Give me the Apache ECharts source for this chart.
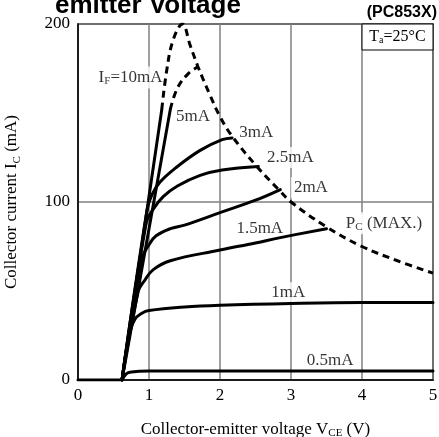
<!DOCTYPE html>
<html>
<head>
<meta charset="utf-8">
<script src="https://cdn.jsdelivr.net/npm/echarts@6/dist/echarts.min.js"></script>
<style>html,body{margin:0;padding:0;background:#fff}#c{width:439px;height:437px}</style>
</head>
<body>
<div id="c"></div>
<script>
// ---- data (Vce in V, Ic in mA) ----
const xTicks = [0, 1, 2, 3, 4, 5];
const yTicks = [0, 100, 200];
const flatZero = [[0, 0], [0.62, 0]];
const ifMax10 = [[0.62, 0], [0.9, 76], [1.18, 152]];
const ifMax10Dash = [[1.18, 152], [1.25, 174], [1.34, 191], [1.47, 200]];
const if5 = [[0.62, 0], [1.3, 152]];
const if5Dash = [[1.3, 152], [1.4, 164], [1.55, 172], [1.69, 176]];
const pcMax = [[1.47, 200], [1.58, 188], [1.69, 176], [1.86, 160], [2.0, 148], [2.17, 137], [2.54, 119], [2.85, 106], [3.0, 100], [3.5, 86], [4.0, 75], [4.5, 67], [5.0, 60]];
const if3 = [[0.62, 0], [0.97, 95], [1.04, 104], [1.15, 111], [1.37, 119], [1.72, 129], [2.03, 135], [2.17, 136]];
const if25 = [[0.62, 0], [0.96, 88], [1.06, 96], [1.2, 103], [1.4, 109], [1.72, 115], [2.03, 118], [2.54, 120]];
const if2 = [[0.62, 0], [0.9, 68], [1.0, 76], [1.1, 81], [1.3, 85], [1.5, 87], [2.0, 94], [2.5, 101], [2.85, 107]];
const if15 = [[0.62, 0], [0.85, 50], [0.94, 56], [1.06, 62], [1.3, 67], [2.0, 73], [2.5, 77], [2.85, 80], [3.5, 85]];
const if1 = [[0.62, 0], [0.72, 25], [0.8, 34], [0.9, 37.5], [1.0, 39], [1.5, 41], [2.0, 42], [3.0, 43], [4.0, 43.5], [5.0, 43.5]];
const if05 = [[0.62, 0], [0.68, 3.5], [0.75, 4.5], [1.0, 5], [5.0, 5]];
const curveLabels = ['I{s|F}=10mA', '5mA', '3mA', '2.5mA', '2mA', '1.5mA', 'P{s|C} (MAX.)', '1mA', '0.5mA'];
const labelAnchors = [[0.74, 170], [1.62, 148], [2.51, 139], [2.99, 125], [3.28, 108], [2.56, 85], [4.31, 88], [2.96, 49], [3.55, 11]];
const yNameParts = ['Collector current I', 'C', ' (mA)'];

const serif = 'Liberation Serif';
const chart = echarts.init(document.getElementById('c'), null, {renderer: 'canvas'});

function solid(data, smooth) {
  return {type: 'line', data: data, smooth: smooth, symbol: 'none', z: 3,
    lineStyle: {color: '#000', width: 3, cap: 'round', join: 'round'}, silent: true};
}
function dashed(data) {
  return {type: 'line', data: data, smooth: 0.4, symbol: 'none', z: 3,
    lineStyle: {color: '#000', width: 3, type: [7, 5]}, silent: true};
}
const subRich = {s: {fontFamily: serif, fontSize: 11, color: '#000', verticalAlign: 'bottom', padding: [7, 0, 0, 0]}};

chart.setOption({
  animation: false,
  backgroundColor: '#fff',
  grid: {left: 78, right: 6, top: 24, bottom: 57, outerBoundsMode: 'none', containLabel: false,
    show: true, borderColor: '#000', borderWidth: 1.5, backgroundColor: 'transparent'},
  xAxis: {
    type: 'value', min: xTicks[0], max: xTicks[xTicks.length - 1], interval: 1,
    axisLine: {show: true, lineStyle: {color: '#000', width: 1.5}},
    axisTick: {show: false},
    splitLine: {show: true, lineStyle: {color: '#808080', width: 1.5}},
    axisLabel: {fontFamily: serif, fontSize: 17, color: '#000', margin: 7},
    name: 'Collector-emitter voltage V{s|CE} (V)', nameLocation: 'middle', nameGap: 41,
    nameTextStyle: {fontFamily: serif, fontSize: 17, color: '#000', rich: subRich}
  },
  yAxis: {
    type: 'value', min: yTicks[0], max: yTicks[yTicks.length - 1], interval: 100,
    axisLine: {show: true, lineStyle: {color: '#000', width: 1.5}},
    axisTick: {show: false},
    splitLine: {show: true, lineStyle: {color: '#808080', width: 1.5}},
    axisLabel: {fontFamily: serif, fontSize: 17, color: '#000', margin: 8}
  },
  series: [
    {type: 'scatter', data: labelAnchors.map((p, i) => ({value: p, name: curveLabels[i]})), symbolSize: 1, z: 1,
      itemStyle: {color: 'rgba(0,0,0,0)'}, silent: true,
      label: {show: true, position: 'inside', formatter: p => p.name, fontFamily: serif, fontSize: 17, color: '#000',
        backgroundColor: '#fff', padding: [2, 3],
        rich: {s: {fontFamily: serif, fontSize: 11, color: '#000', verticalAlign: 'bottom', padding: [7, 0, 0, 0], backgroundColor: '#fff'}}}},
    solid(flatZero, false),
    solid(ifMax10, false),
    dashed(ifMax10Dash.concat(pcMax.slice(1))),
    solid(if5, false),
    dashed(if5Dash),
    solid(if3, 0.4),
    solid(if25, 0.4),
    solid(if2, 0.4),
    solid(if15, 0.4),
    solid(if1, 0.4),
    solid(if05, 0.4)
  ]
});

// measure the y-name pieces to lay them out along a rotated baseline
const mctx = document.createElement('canvas').getContext('2d');
const bigFont = '17px "Liberation Serif"', smallFont = '11px "Liberation Serif"';
mctx.font = bigFont; const w0 = mctx.measureText(yNameParts[0]).width, w2 = mctx.measureText(yNameParts[2]).width;
mctx.font = smallFont; const w1 = mctx.measureText(yNameParts[1]).width;
const totalW = w0 + w1 + w2;

const tl = chart.convertToPixel({gridIndex: 0}, [4, 200]);
const br = chart.convertToPixel({gridIndex: 0}, [5, 200]);
const yMid = chart.convertToPixel({gridIndex: 0}, [0, 100]);
chart.setOption({
  graphic: [
    {type: 'text', left: 55, top: -7, style: {text: 'emitter Voltage', font: 'bold 26px "Liberation Sans"', fill: '#000'}},
    {type: 'text', right: 2, top: 5, style: {text: '(PC853X)', font: 'bold 16px "Liberation Sans"', fill: '#000'}},
    {type: 'group', x: 20, y: yMid[1] + totalW / 2, rotation: Math.PI / 2, children: [
      {type: 'text', x: 0, y: 0, style: {text: yNameParts[0], font: bigFont, fill: '#000', align: 'left', verticalAlign: 'bottom'}},
      {type: 'text', x: w0, y: 3, style: {text: yNameParts[1], font: smallFont, fill: '#000', align: 'left', verticalAlign: 'bottom'}},
      {type: 'text', x: w0 + w1, y: 0, style: {text: yNameParts[2], font: bigFont, fill: '#000', align: 'left', verticalAlign: 'bottom'}}
    ]},
    {type: 'rect', shape: {x: tl[0], y: tl[1], width: br[0] - tl[0], height: 26}, style: {fill: '#fff', stroke: '#000', lineWidth: 1}, z: 5},
    {type: 'text', x: (tl[0] + br[0]) / 2, y: tl[1] + 13, z: 6,
      style: {text: 'T{s|a}=25°C', align: 'center', verticalAlign: 'middle', font: '16px "Liberation Serif"', fill: '#000',
        rich: {s: {font: '10px "Liberation Serif"', fill: '#000', verticalAlign: 'bottom', padding: [6, 0, 0, 0]}}}}
  ]
});
</script>
</body>
</html>
